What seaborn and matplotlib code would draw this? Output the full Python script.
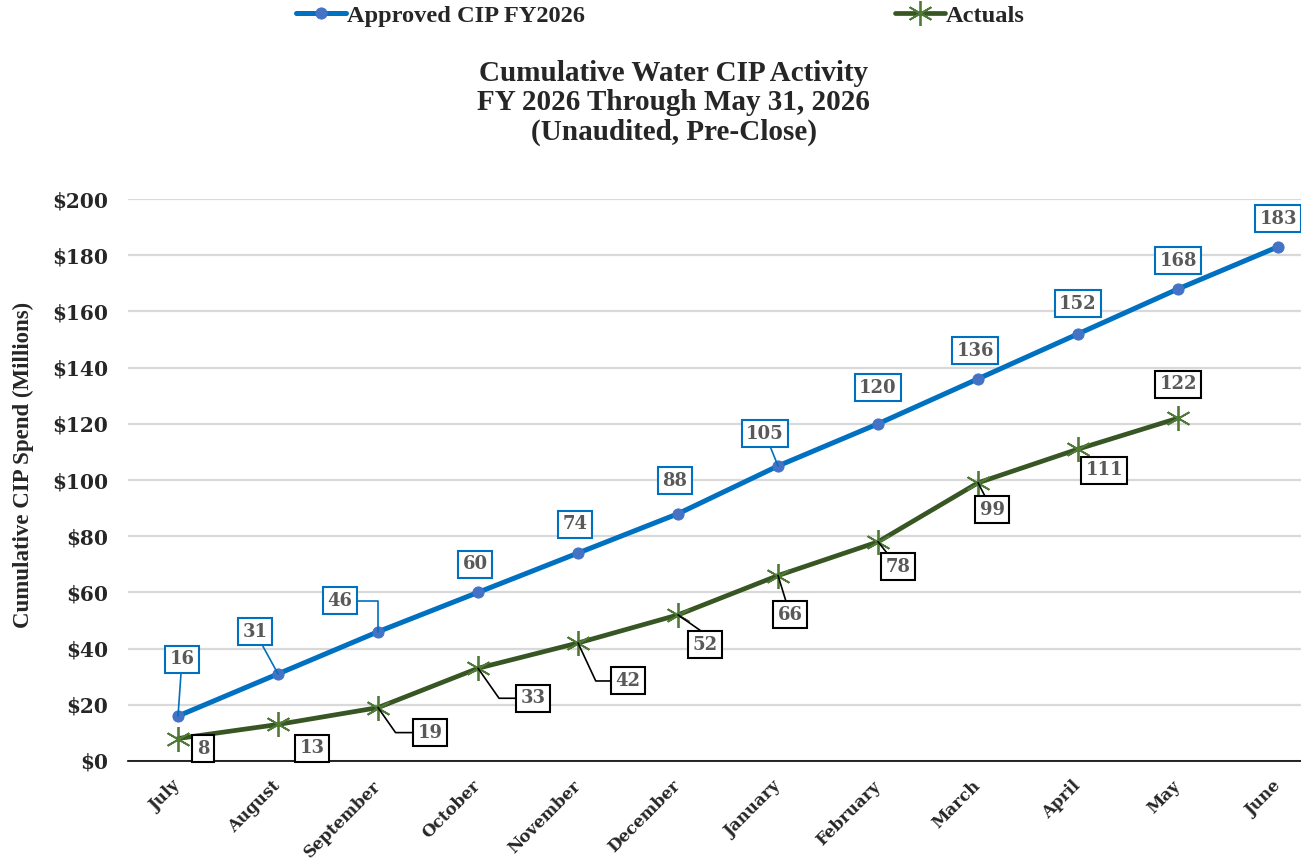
import numpy as np
import matplotlib
matplotlib.use("Agg")
import matplotlib.pyplot as plt
import matplotlib.transforms as mtransforms
import seaborn as sns

# ------------------------------
# Data
# ------------------------------
months = ["July", "August", "September", "October", "November", "December",
          "January", "February", "March", "April", "May", "June"]
approved = [16, 31, 46, 60, 74, 88, 105, 120, 136, 152, 168, 183]
actuals = [8, 13, 19, 33, 42, 52, 66, 78, 99, 111, 122]
yticks = [0, 20, 40, 60, 80, 100, 120, 140, 160, 180, 200]

# label box offsets (pixels) and leader style
blue_off = [(4, 57), (-23, 42), (-38, 31), (-3, 28), (-3, 29), (-3, 33),
            (-13, 32), (0, 36), (-3, 28), (0, 30), (0, 28), (0, 28)]
blue_lead = ["arc3", "arc3", "angle,angleA=0,angleB=90,rad=0", None, None, None,
             "arc3", None, None, None, None, None]
green_off = [(25, -10), (34, -24), (52, -25), (55, -30), (50, -38), (27, -30),
             (12, -39), (20, -25), (14, -27), (26, -21), (0, 34)]
green_lead = [None, None, "angle,angleA=0,angleB=-55,rad=0",
              "angle,angleA=0,angleB=-55,rad=0", "angle,angleA=0,angleB=-65,rad=0",
              "angle,angleA=0,angleB=-35,rad=0", "arc3", "arc3", "arc3", None, None]

BLUE = "#0070C0"
GREEN = "#375623"

sns.set_theme(style="white")
plt.rcParams["font.family"] = ["DejaVu Serif"]

fig = plt.figure(figsize=(13.01, 8.63), dpi=100)
ax = fig.add_axes([0.0984, 0.1182, 0.9224, 0.6512])

x_all = np.arange(len(months))
x_act = np.arange(len(actuals))

sns.lineplot(x=x_all, y=approved, ax=ax, color=BLUE, linewidth=3.6,
             marker="o", markersize=8, markerfacecolor="#4472C4",
             markeredgecolor="#4472C4", label="Approved CIP FY2026", zorder=3)
sns.lineplot(x=x_act, y=actuals, ax=ax, color=GREEN, linewidth=3.4,
             marker=(6, 2, 0), markersize=18, markeredgecolor="#4E7A35",
             markeredgewidth=1.3, label="Actuals", zorder=3)

ax.set_xlim(-0.5, len(months) - 0.5)
ax.set_ylim(0, 200)
ax.set_yticks(yticks)
ax.set_yticklabels([f"${v}" for v in yticks], fontsize=14.5, fontweight="bold")
ax.set_xticks(x_all)
ax.set_xticklabels(months, rotation=45, ha="right", rotation_mode="anchor",
                   fontsize=12, fontweight="bold")
ax.tick_params(axis="y", length=0, pad=14)
ax.tick_params(axis="x", length=0, pad=12)
shift = mtransforms.ScaledTranslation(-6 / 100, 0, fig.dpi_scale_trans)
for lab in ax.get_xticklabels():
    lab.set_transform(lab.get_transform() + shift)
ax.grid(axis="y", color="#D9D9D9", linewidth=1.6)
ax.grid(axis="x", visible=False)
for s in ["top", "right", "left"]:
    ax.spines[s].set_visible(False)
ax.spines["bottom"].set_color("black")
ax.spines["bottom"].set_linewidth(1.2)
ax.spines["bottom"].set_zorder(4)

ax.set_xlabel("")
ax.set_ylabel("Cumulative CIP Spend (Millions)", fontsize=16.5, fontweight="bold",
              family="Liberation Serif")
ax.yaxis.set_label_coords(-0.078, 0.527)

# data labels
for i, v in enumerate(approved):
    cs = blue_lead[i]
    ax.annotate(str(v), xy=(x_all[i], v), xytext=blue_off[i], textcoords="offset pixels",
                ha="center", va="center", fontsize=13, fontweight="bold", color="#595959",
                bbox=dict(boxstyle="square,pad=0.25", fc="white", ec=BLUE, lw=1.5),
                arrowprops=None if cs is None else dict(arrowstyle="-", color=BLUE, lw=1.2,
                                                        connectionstyle=cs, shrinkA=0, shrinkB=0),
                zorder=5)
for i, v in enumerate(actuals):
    cs = green_lead[i]
    ax.annotate(str(v), xy=(x_act[i], v), xytext=green_off[i], textcoords="offset pixels",
                ha="center", va="center", fontsize=13, fontweight="bold", color="#595959",
                bbox=dict(boxstyle="square,pad=0.25", fc="white", ec="black", lw=1.5),
                arrowprops=None if cs is None else dict(arrowstyle="-", color="black", lw=1.2,
                                                        connectionstyle=cs, shrinkA=0, shrinkB=0),
                zorder=5)

# legend on top
handles, labels = ax.get_legend_handles_labels()
ax.get_legend().remove()
fig.legend(handles, labels, loc="center left", bbox_to_anchor=(0.2275, 0.9815), ncol=2,
           frameon=False, handlelength=2.05, handletextpad=0.05, columnspacing=12.65,
           borderaxespad=0, borderpad=0,
           prop=dict(family="Liberation Serif", weight="bold", size=17.6))

# title
fig.text(0.518, 0.881, "Cumulative Water CIP Activity\nFY 2026 Through May 31, 2026\n(Unaudited, Pre-Close)",
         ha="center", va="center", fontsize=21, fontweight="bold", family="Liberation Serif",
         linespacing=1.12)

fig.savefig("out.png", dpi=100)
